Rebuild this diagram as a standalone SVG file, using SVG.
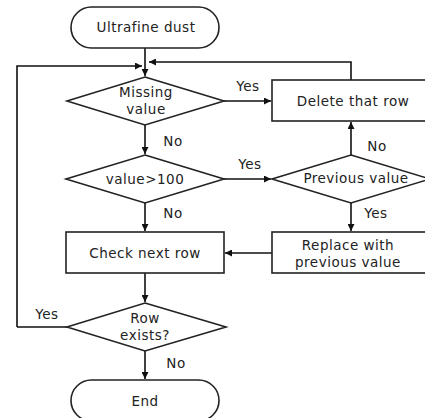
<svg xmlns="http://www.w3.org/2000/svg" width="425" height="418" viewBox="0 0 425 418">
<style>
.s{fill:#fff;stroke:#222;stroke-width:1.6}
.c{fill:none;stroke:#111;stroke-width:1.6}
text{font-family:"DejaVu Sans","Noto Sans CJK KR",sans-serif;font-size:13.5px;letter-spacing:0.5px;fill:#222;text-anchor:middle;dominant-baseline:central}
</style>
<defs>
<marker id="a" viewBox="0 0 10 10" refX="10" refY="5" markerWidth="7" markerHeight="7" markerUnits="userSpaceOnUse" orient="auto"><path d="M0,0L10,5L0,10z" fill="#111"/></marker>
</defs>
<rect width="425" height="418" fill="#fff"/>
<g id="connectors">
<path class="c" d="M145,48V76" marker-end="url(#a)"/>
<path class="c" d="M17,327H67M17,327V66H142" marker-end="url(#a)"/>
<path class="c" d="M351,80V62H149" marker-end="url(#a)"/>
<path class="c" d="M224,101H271" marker-end="url(#a)"/>
<path class="c" d="M145,125V154" marker-end="url(#a)"/>
<path class="c" d="M224,179H271" marker-end="url(#a)"/>
<path class="c" d="M351,155V122" marker-end="url(#a)"/>
<path class="c" d="M145,203V231" marker-end="url(#a)"/>
<path class="c" d="M351,203V231" marker-end="url(#a)"/>
<path class="c" d="M272,253H225" marker-end="url(#a)"/>
<path class="c" d="M145,273V302" marker-end="url(#a)"/>
<path class="c" d="M145,351V379" marker-end="url(#a)"/>
<text x="248" y="86">Yes</text>
<text x="173" y="141">No</text>
<text x="250" y="164">Yes</text>
<text x="377" y="146">No</text>
<text x="173" y="213">No</text>
<text x="376" y="213">Yes</text>
<text x="47" y="314">Yes</text>
<text x="176" y="363">No</text>
</g>
<g id="start"><rect class="s" x="71" y="7" width="148" height="41" rx="20.5"/><text x="146" y="27">Ultrafine dust</text></g>
<g id="missing"><polygon class="s" points="145,77 224,101 145,125 67,101"/><text x="146" y="92">Missing</text><text x="146" y="109">value</text></g>
<g id="delete"><rect class="s" x="272" y="80" width="158" height="41"/><text x="353" y="101">Delete that row</text></g>
<g id="gt100"><polygon class="s" points="145,155 224,179 145,203 66,179"/><text x="145" y="179">value&gt;100</text></g>
<g id="previous"><polygon class="s" points="351,155 430,179 351,203 272,179"/><text x="356" y="178">Previous value</text></g>
<g id="check"><rect class="s" x="66" y="232" width="158" height="41"/><text x="145" y="253">Check next row</text></g>
<g id="replace"><rect class="s" x="272" y="232" width="158" height="41"/><text x="348" y="245">Replace with</text><text x="348" y="262">previous value</text></g>
<g id="rowexists"><polygon class="s" points="145,303 226,327 145,351 67,327"/><text x="145" y="318">Row</text><text x="145" y="335">exists?</text></g>
<g id="end"><rect class="s" x="71" y="380" width="148" height="41" rx="20.5"/><text x="145" y="401">End</text></g>
</svg>
